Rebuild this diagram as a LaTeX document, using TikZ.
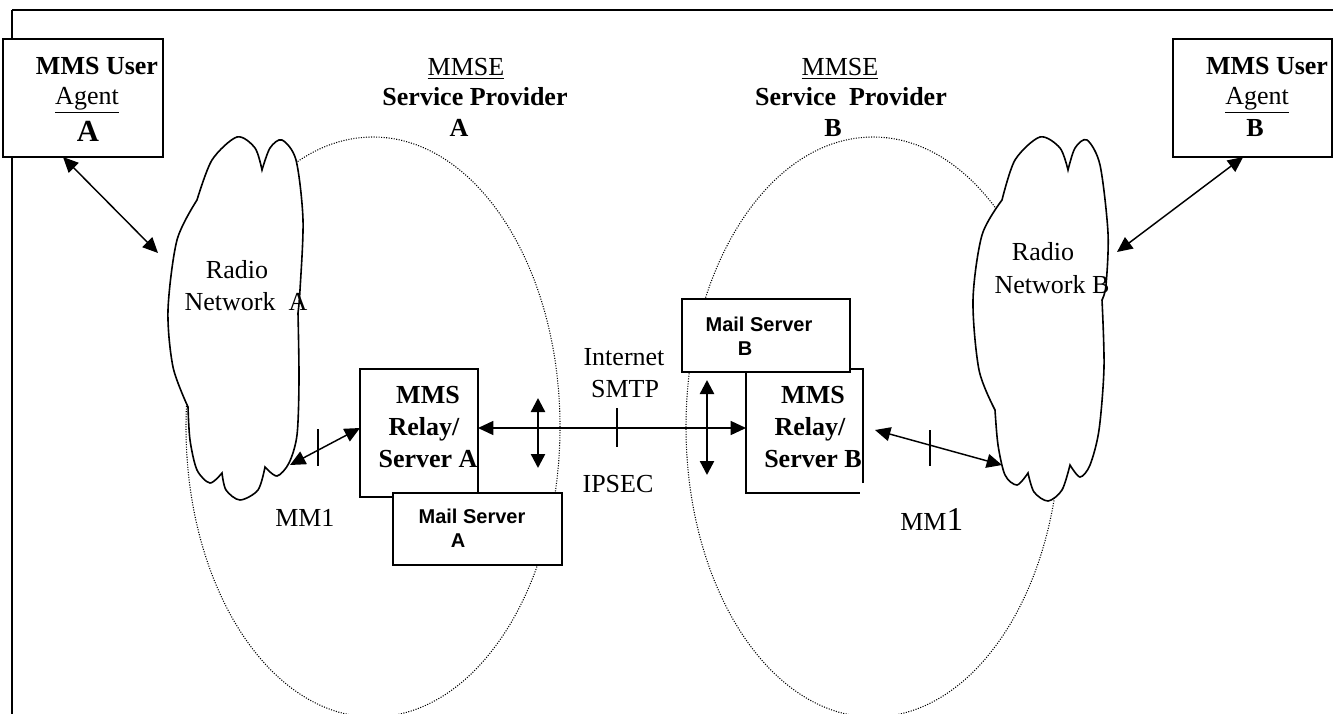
\documentclass[tikz,border=0pt]{standalone}
\usepackage{fontspec}
\setmainfont{Liberation Serif}
\newfontfamily\arialfont{Liberation Sans}
\usetikzlibrary{arrows.meta}
\begin{document}
\begin{tikzpicture}[x=0.75pt,y=-0.75pt,
  box/.style={draw, line width=1.1pt, fill=white, inner sep=0pt, outer sep=0pt},
  mailbox/.style={box, line width=1.4pt},
  txt/.style={inner sep=0pt, anchor=base, font=\fontsize{19.5}{23}\selectfont},
  btxt/.style={inner sep=0pt, anchor=base, font=\fontsize{19.5}{23}\selectfont\bfseries},
  stxt/.style={inner sep=0pt, anchor=base, font=\arialfont\bfseries\fontsize{15}{18}\selectfont},
  link/.style={line width=1.1pt, {Triangle[length=11.5pt,width=10.5pt]}-{Triangle[length=11.5pt,width=10.5pt]}},
  vlink/.style={line width=1.8pt, {Triangle[length=10.5pt,width=10.5pt]}-{Triangle[length=10.5pt,width=10.5pt]}},
  tick/.style={line width=0.9pt},
  cloudshape/.style={draw, line width=1.2pt, fill=white},
  area/.style={line width=0.8pt, dash pattern=on 0.8pt off 1.1pt, black}
]
\useasboundingbox (0,0) rectangle (1333,713);

% outer frame
\draw[line width=1.8pt] (1340,10) -- (12,10);
\draw[line width=1.1pt] (12,10) -- (12,720);

% service provider areas
\draw[area] (373,427) ellipse [x radius=140.25pt, y radius=217.5pt];
\draw[area] (873,427) ellipse [x radius=140.25pt, y radius=217.5pt];

% radio network clouds
\draw[cloudshape]
  plot[smooth] coordinates {(197,200) (212,160) (237,137) (255,148) (262,170)}
  -- plot[smooth] coordinates {(262,170) (270,148) (282,140) (296,160) (303,220) (300,290) (298,313)}
  -- plot[smooth] coordinates {(298,313) (299,380) (297,435) (289,463) (277,476) (265,467)}
  -- plot[smooth] coordinates {(265,467) (258,490) (240,500) (226,490) (222,473)}
  -- plot[smooth] coordinates {(222,473) (210,483) (197,470) (190,440) (188,407)}
  -- plot[smooth] coordinates {(188,407) (173,367) (168,310) (177,240) (197,200)}
  -- cycle;
\draw[cloudshape]
  plot[smooth] coordinates {(1002,200) (1015,160) (1040,137) (1060,148) (1068,170)}
  -- plot[smooth] coordinates {(1068,170) (1075,148) (1087,140) (1100,165) (1108,233) (1106,285) (1102,300)}
  -- plot[smooth] coordinates {(1102,300) (1104,367) (1099,430) (1090,465) (1080,477) (1070,465)}
  -- plot[smooth] coordinates {(1070,465) (1062,490) (1048,501) (1034,492) (1028,473)}
  -- plot[smooth] coordinates {(1028,473) (1017,485) (1005,475) (998,445) (995,410)}
  -- plot[smooth] coordinates {(995,410) (979,370) (973,300) (982,235) (1002,200)}
  -- cycle;

% boxes
\node[box, minimum width=120pt, minimum height=88.5pt] (uaA) at (83,98) {};
\node[box, minimum width=119.25pt, minimum height=88.5pt] (uaB) at (1252.5,98) {};
\node[box, minimum width=88.5pt, minimum height=96pt] (relayA) at (419,433) {};
\node[mailbox, minimum width=126.75pt, minimum height=54pt] (mailA) at (477.5,529) {};
\node[fill=white, inner sep=0pt, outer sep=0pt, minimum width=87.75pt, minimum height=93pt] (relayB) at (804.5,431) {};
\draw[line width=1.1pt] ([yshift=7.5pt]relayB.south east) -- (relayB.north east) -- (relayB.north west)
  -- (relayB.south west) -- ([xshift=-2.25pt]relayB.south east);
\node[mailbox, minimum width=126pt, minimum height=54.75pt] (mailB) at (766,335.5) {};

% texts
\node[btxt] (uaA1) at (97,75) {MMS User};
\node[txt] (uaA2) at (87,105) {\underline{Agent}};
\node[btxt, font=\fontsize{23}{26}\selectfont\bfseries] (uaA3) at (88,142) {A};
\node[btxt] (uaB1) at (1267,75) {MMS User};
\node[txt] (uaB2) at (1257,105) {\underline{Agent}};
\node[btxt] (uaB3) at (1255,137) {B};

\node[txt] (spA1) at (466,76) {\underline{MMSE}};
\node[btxt] (spA2) at (475,106) {Service Provider};
\node[btxt] (spA3) at (459,137) {A};
\node[txt] (spB1) at (840,76) {\underline{MMSE}};
\node[btxt] (spB2) at (851,106) {Service\ \ Provider};
\node[btxt] (spB3) at (833,137) {B};

\node[txt] (rnA1) at (237,278) {Radio};
\node[txt] (rnA2) at (246,310) {Network\ \ A};
\node[txt] (rnB1) at (1043,260) {Radio};
\node[txt] (rnB2) at (1052,293) {Network B};

\node[btxt] (rA1) at (428,403) {MMS};
\node[btxt] (rA2) at (424,435) {Relay/};
\node[btxt] (rA3) at (428,467) {Server A};
\node[btxt] (rB1) at (813,403) {MMS};
\node[btxt] (rB2) at (810,435) {Relay/};
\node[btxt] (rB3) at (813,467) {Server B};

\node[stxt] (mA1) at (472,523) {Mail Server};
\node[stxt] (mA2) at (458,547) {A};
\node[stxt] (mB1) at (759,331) {Mail Server};
\node[stxt] (mB2) at (745,355) {B};

\node[txt] (inet) at (624,365) {Internet};
\node[txt] (smtp) at (625,397) {SMTP};
\node[txt] (ipsec) at (618,492) {IPSEC};

\node[txt, anchor=base west] (mm1A) at (275,526) {MM1};
\node[txt, anchor=base west] (mm1B) at (900,530) {MM{\fontsize{25}{28}\selectfont 1}};

% connector end points
\coordinate (cAtop) at (158,253);
\coordinate (cAbot) at (290,465);
\coordinate (cBtop) at (1117,252);
\coordinate (cBbot) at (1002,465);
\coordinate (vA1) at (538,398);
\coordinate (vA2) at (538,468);
\coordinate (vB1) at (707,380);
\coordinate (vB2) at (707,475);

% connectors
\draw[link] ([xshift=-15pt]uaA.south) -- (cAtop);
\draw[link] ([xshift=-7pt]uaB.south) -- (cBtop);
\draw[link] (cAbot) -- ([yshift=3.75pt]relayA.west);
\draw[link] ([yshift=3.75pt]relayA.east) -- ([yshift=2.25pt]relayB.west);
\draw[link] ([xshift=9pt,yshift=0.75pt]relayB.east) -- (cBbot);
\draw[vlink] (vA1) -- (vA2);
\draw[vlink] (vB1) -- (vB2);

% interface ticks
\draw[tick] (318,429) -- (318,466);
\draw[tick] (617,408) -- (617,447);
\draw[tick] (930,430) -- (930,466);
\end{tikzpicture}
\end{document}
